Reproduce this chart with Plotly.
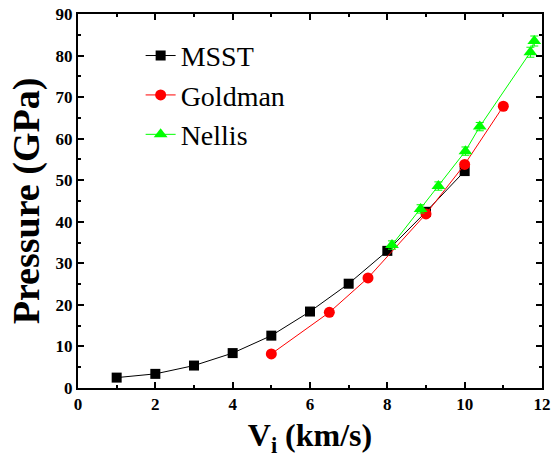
import plotly.graph_objects as go

msst_x = [1, 2, 3, 4, 5, 6, 7, 8, 9, 10]
msst_y = [2.5, 3.4, 5.4, 8.4, 12.6, 18.4, 25.1, 33.0, 42.4, 52.2]

goldman_x = [5, 6.5, 7.5, 9, 10, 11]
goldman_y = [8.2, 18.2, 26.5, 41.9, 53.8, 67.8]

nellis_x = [8.12, 8.86, 9.32, 10.02, 10.39, 11.70, 11.80]
nellis_y = [34.4, 43.1, 48.6, 57.0, 62.9, 80.8, 83.5]
nellis_err = [1.0, 1.0, 1.0, 1.0, 1.0, 1.2, 1.2]

SERIF = "Liberation Serif"

fig = go.Figure()
fig.add_trace(go.Scatter(x=msst_x, y=msst_y, name="MSST", mode="lines+markers",
                         line=dict(color="black", width=1),
                         marker=dict(symbol="square", size=10, color="black")))
fig.add_trace(go.Scatter(x=goldman_x, y=goldman_y, name="Goldman", mode="lines+markers",
                         line=dict(color="red", width=1),
                         marker=dict(symbol="circle", size=11, color="red")))
fig.add_trace(go.Scatter(x=nellis_x, y=nellis_y, name="Nellis", mode="lines+markers",
                         line=dict(color="#00ff00", width=1),
                         marker=dict(symbol="triangle-up", size=12, color="#00ff00"),
                         error_y=dict(type="data", array=nellis_err, color="#00ff00",
                                      thickness=1, width=4)))

axis_common = dict(
    showgrid=False, zeroline=False, showline=True, linecolor="black", linewidth=2,
    mirror="ticks", ticks="inside", ticklen=6, tickwidth=1.5, tickcolor="black",
    automargin=False,
    tickfont=dict(family=SERIF, size=17, color="black", weight="bold"),
)
fig.update_xaxes(range=[0, 12], dtick=2,
                 minor=dict(dtick=1, ticks="inside", ticklen=3, tickcolor="black", tickwidth=1.5),
                 title=dict(text="V<sub>i</sub> (km/s)", standoff=10,
                            font=dict(family=SERIF, size=32, color="black", weight="bold")),
                 **axis_common)
fig.update_yaxes(range=[0, 90], dtick=10,
                 minor=dict(dtick=5, ticks="inside", ticklen=3, tickcolor="black", tickwidth=1.5),
                 title=dict(text="Pressure (GPa)", standoff=4,
                            font=dict(family=SERIF, size=38, color="black", weight="bold")),
                 **axis_common)

fig.update_layout(
    width=557, height=461,
    margin=dict(l=78, r=15, t=14, b=73),
    plot_bgcolor="white", paper_bgcolor="white",
    font=dict(family=SERIF),
    legend=dict(x=0.135, y=0.955, xanchor="left", yanchor="top",
                font=dict(family=SERIF, size=28, color="black"),
                bgcolor="rgba(0,0,0,0)", tracegroupgap=0),
    showlegend=True,
)

fig.write_html("out.html", config={"displayModeBar": False},
               post_script="document.body.style.margin='0px';document.body.style.overflow='hidden';")
